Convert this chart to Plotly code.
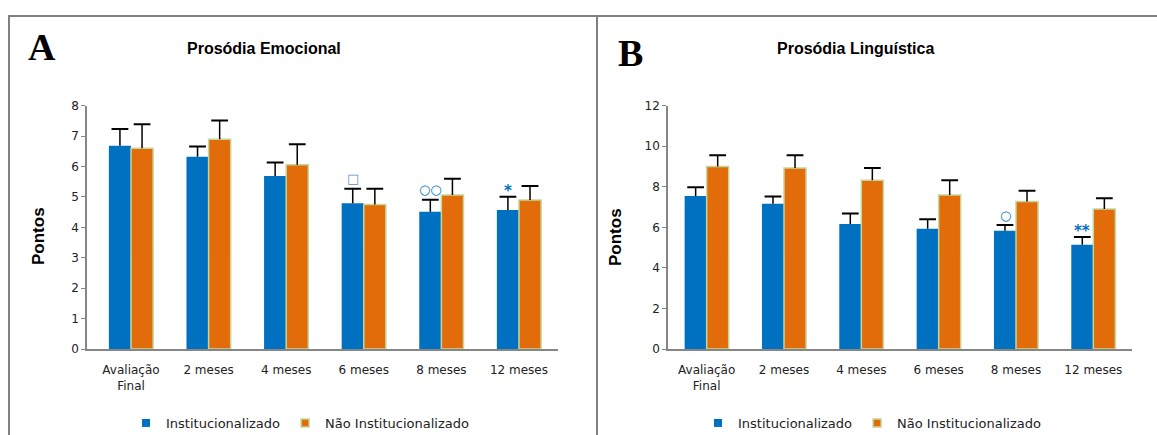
import plotly.graph_objects as go

# Time points
categories = ["Avaliação<br>Final", "2 meses", "4 meses", "6 meses", "8 meses", "12 meses"]

# Prosódia Emocional (mean and upper error)
emo_inst = [6.68, 6.32, 5.69, 4.79, 4.51, 4.57]
emo_inst_err = [0.55, 0.34, 0.44, 0.48, 0.40, 0.44]
emo_nao = [6.60, 6.90, 6.06, 4.75, 5.06, 4.90]
emo_nao_err = [0.79, 0.61, 0.67, 0.52, 0.54, 0.46]

# Prosódia Linguística (mean and upper error)
lin_inst = [7.55, 7.16, 6.17, 5.93, 5.83, 5.14]
lin_inst_err = [0.43, 0.36, 0.51, 0.47, 0.28, 0.38]
lin_nao = [9.00, 8.93, 8.32, 7.59, 7.27, 6.91]
lin_nao_err = [0.56, 0.63, 0.61, 0.73, 0.54, 0.53]

# Significance symbols above the institutionalized group
emo_marks = {"6 meses": ("□", "#4f93d8"), "8 meses": ("○○", "#0070c0"), "12 meses": ("*", "#0070c0")}
lin_marks = {"8 meses": ("○", "#0070c0"), "12 meses": ("**", "#0070c0")}

BLUE = "#0070c0"
ORANGE = "#e36c0a"
EDGE = "#c3d69b"
W, H = 1157, 435
TICKFONT = dict(family="DejaVu Sans", size=12, color="#222")


def px_x(p):
    return p / W


def px_y(p):
    return (H - p) / H


fig = go.Figure()


def add_panel(xa, ya, legend, inst, inst_err, nao, nao_err):
    for name, vals, errs, color, grp in [
        ("Institucionalizado", inst, inst_err, BLUE, "inst"),
        ("Não Institucionalizado", nao, nao_err, ORANGE, "nao"),
    ]:
        edge = dict(color=EDGE, width=1.5) if grp == "nao" else dict(width=0)
        fig.add_trace(go.Bar(
            x=categories, y=vals, marker=dict(color=color, line=edge),
            offsetgroup=grp, xaxis=xa, yaxis=ya, showlegend=False, hoverinfo="skip",
        ))
        # upper error whisker: stem down to the bar top, cap drawn as a marker
        fig.add_trace(go.Scatter(
            x=categories, y=[v + e for v, e in zip(vals, errs)], mode="markers",
            marker=dict(symbol="line-ew", size=12, color="black", line=dict(color="black", width=2)),
            error_y=dict(type="data", symmetric=False, array=[0] * len(errs), arrayminus=errs,
                         width=0, thickness=1.5, color="black"),
            offsetgroup=grp, xaxis=xa, yaxis=ya, showlegend=False, hoverinfo="skip",
        ))
        # legend swatch
        fig.add_trace(go.Scatter(
            x=[None], y=[None], mode="markers", name=name,
            marker=dict(symbol="square", size=8, color=color,
                        line=dict(color=EDGE, width=1.5) if grp == "nao" else dict(width=0)),
            offsetgroup=grp, xaxis=xa, yaxis=ya, legend=legend, showlegend=True,
        ))


add_panel("x", "y", "legend", emo_inst, emo_inst_err, emo_nao, emo_nao_err)
add_panel("x2", "y2", "legend2", lin_inst, lin_inst_err, lin_nao, lin_nao_err)

annotations = []
for marks, xr, yr, vals, errs in [
    (emo_marks, "x", "y", emo_inst, emo_inst_err),
    (lin_marks, "x2", "y2", lin_inst, lin_inst_err),
]:
    for cat, (sym, col) in marks.items():
        i = categories.index(cat)
        star = "*" in sym
        annotations.append(dict(
            x=cat, y=vals[i] + errs[i], xref=xr, yref=yr, text=f"<b>{sym}</b>",
            showarrow=False, xshift=-11, yshift=6 if star else 10, yanchor="middle",
            font=dict(family="DejaVu Sans", size=15 if star else 13, color=col),
        ))


def paper_text(x, y, text, size, family="Liberation Sans", angle=0):
    return dict(x=px_x(x), y=px_y(y), xref="paper", yref="paper", text=text, showarrow=False,
                xanchor="center", yanchor="middle", textangle=angle,
                font=dict(family=family, size=size, color="black"))


# Panel letters, titles and axis titles
annotations += [
    paper_text(42, 47, "<b>A</b>", 38, "Liberation Serif"),
    paper_text(631, 53, "<b>B</b>", 38, "Liberation Serif"),
    paper_text(264, 48, "<b>Prosódia Emocional</b>", 16),
    paper_text(855, 48, "<b>Prosódia Linguística</b>", 16),
    paper_text(38, 236, "<b>Pontos</b>", 17, angle=-90),
    paper_text(615, 237, "<b>Pontos</b>", 17, angle=-90),
]

shapes = [
    dict(type="rect", xref="paper", yref="paper", x0=px_x(9), x1=px_x(597), y0=-0.1, y1=px_y(16),
         line=dict(color="#808080", width=2)),
    dict(type="rect", xref="paper", yref="paper", x0=px_x(597), x1=1.1, y0=-0.1, y1=px_y(16),
         line=dict(color="#808080", width=2)),
]

yd = [px_y(349), px_y(105.7)]
xaxis_common = dict(type="category", showline=True, linecolor="#868686", linewidth=1.5,
                    ticks="", showgrid=False, zeroline=False, tickfont=TICKFONT, fixedrange=True,
                    ticklabelstandoff=9)
yaxis_common = dict(showline=True, linecolor="#868686", linewidth=1.5, ticks="outside",
                    ticklen=4, tickcolor="#868686", showgrid=False, zeroline=False,
                    tickfont=TICKFONT, fixedrange=True)
legend_common = dict(orientation="h", xanchor="center", yanchor="middle",
                     font=dict(family="DejaVu Sans", size=13, color="#222"),
                     bgcolor="rgba(0,0,0,0)")

fig.update_layout(
    width=W, height=H, margin=dict(l=0, r=0, t=0, b=0, autoexpand=False),
    paper_bgcolor="white", plot_bgcolor="white",
    barmode="group", bargap=0.43, bargroupgap=0,
    scattermode="group", scattergap=0.43,
    xaxis=dict(domain=[px_x(87), px_x(558)], range=[-0.567, 5.503], anchor="y", **xaxis_common),
    yaxis=dict(domain=yd, range=[0, 8], dtick=1, anchor="x", **yaxis_common),
    xaxis2=dict(domain=[px_x(668), px_x(1132)], range=[-0.5, 5.5], anchor="y2", **xaxis_common),
    yaxis2=dict(domain=yd, range=[0, 12], dtick=2, anchor="x2", **yaxis_common),
    legend=dict(x=px_x(300), y=px_y(423), **legend_common),
    legend2=dict(x=px_x(872), y=px_y(423), **legend_common),
    annotations=annotations,
    shapes=shapes,
)

fig.write_html("out.html")
